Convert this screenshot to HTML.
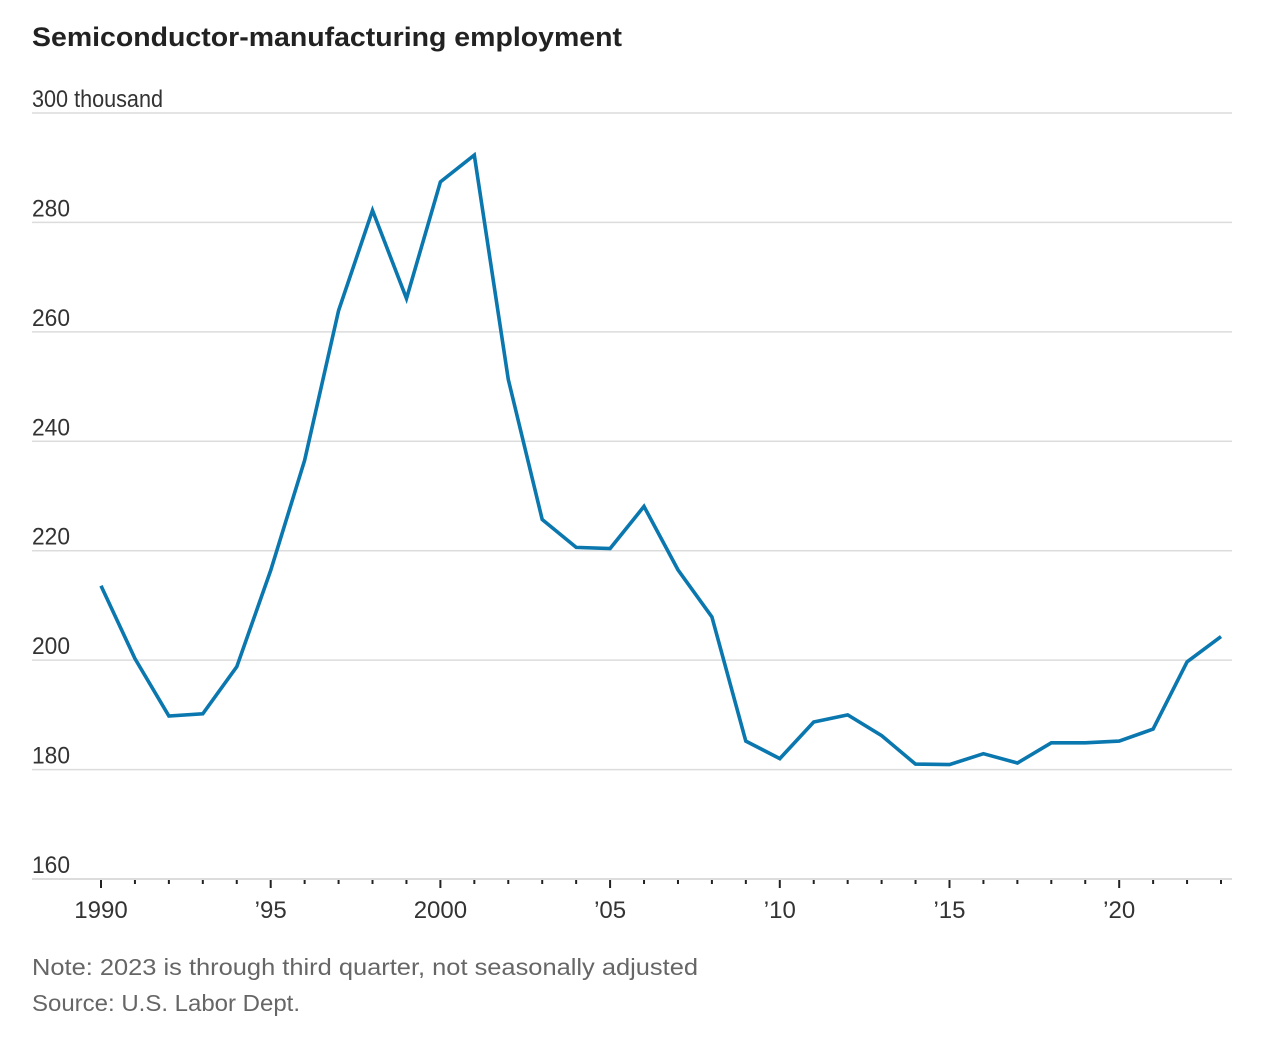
<!DOCTYPE html>
<html><head><meta charset="utf-8"><style>
html,body{margin:0;padding:0;background:#fff;}
svg{display:block;font-family:"Liberation Sans Narrow","Liberation Sans",sans-serif;}
</style></head><body>
<svg id="chart" width="1276" height="1046" viewBox="0 0 1276 1046">
<text x="32" y="46" font-family="Liberation Sans, sans-serif" font-weight="bold" font-size="27" fill="#222" textLength="590" lengthAdjust="spacingAndGlyphs">Semiconductor-manufacturing employment</text>
<g id="grid"></g>
<g id="yaxis"></g>
<g id="xaxis"></g>
<path id="line" fill="none" stroke="#0a77ae" stroke-width="3.6" stroke-linejoin="miter"/>
<text x="32" y="975" font-family="Liberation Sans, sans-serif" font-size="23" fill="#666" textLength="666" lengthAdjust="spacingAndGlyphs">Note: 2023 is through third quarter, not seasonally adjusted</text>
<text x="32" y="1011" font-family="Liberation Sans, sans-serif" font-size="23" fill="#666" textLength="268" lengthAdjust="spacingAndGlyphs">Source: U.S. Labor Dept.</text>
</svg>
<script>
const years=[1990,1991,1992,1993,1994,1995,1996,1997,1998,1999,2000,2001,2002,2003,2004,2005,2006,2007,2008,2009,2010,2011,2012,2013,2014,2015,2016,2017,2018,2019,2020,2021,2022,2023];
const values=[213.6,200.3,189.8,190.2,198.8,216.4,236.5,263.9,282.2,266.1,287.4,292.3,251.3,225.7,220.6,220.4,228.1,216.5,207.9,185.2,182.0,188.7,190.0,186.2,181.0,180.9,182.9,181.2,184.9,184.9,185.2,187.4,199.7,204.3];
const yTicks=[160,180,200,220,240,260,280,300];
const xLabelYears=[1990,1995,2000,2005,2010,2015,2020];
const xLabels=["1990","’95","2000","’05","’10","’15","’20"];

const NS="http://www.w3.org/2000/svg";
const x=y=>101+(y-1990)*(1221-101)/33;
const yv=v=>879-(v-160)*(879-113)/140;
function mk(tag,attrs,parent){const e=document.createElementNS(NS,tag);for(const k in attrs)e.setAttribute(k,attrs[k]);parent.appendChild(e);return e;}
const grid=document.getElementById('grid'),ya=document.getElementById('yaxis'),xa=document.getElementById('xaxis');
yTicks.forEach(t=>{
  const l=mk('line',{x1:32,x2:1232,y1:yv(t),y2:yv(t),stroke:'#dcdcdc','stroke-width':t===160?2:1.5},grid);
  
  
  const attrs={x:32,y:yv(t)-6,'font-size':24,fill:'#333',textLength:t===300?131:38,lengthAdjust:'spacingAndGlyphs'};
  const tx=mk('text',attrs,ya);
  tx.textContent=t===300?'300 thousand':String(t);
  
  
});
years.forEach(yr=>{
  const major=xLabelYears.includes(yr);
  const l=mk('line',{x1:x(yr),x2:x(yr),y1:880,y2:major?888:884,stroke:'#222','stroke-width':2},xa);
  
  
});
xLabelYears.forEach((yr,i)=>{
  const tx=mk('text',{x:x(yr),y:918,'font-size':24,fill:'#333','text-anchor':'middle'},xa);
  tx.textContent=xLabels[i];
  
  
});
document.getElementById('line').setAttribute('d',years.map((yr,i)=>(i?'L':'M')+x(yr).toFixed(1)+','+yv(values[i]).toFixed(1)).join(''));
</script>
</body></html>
